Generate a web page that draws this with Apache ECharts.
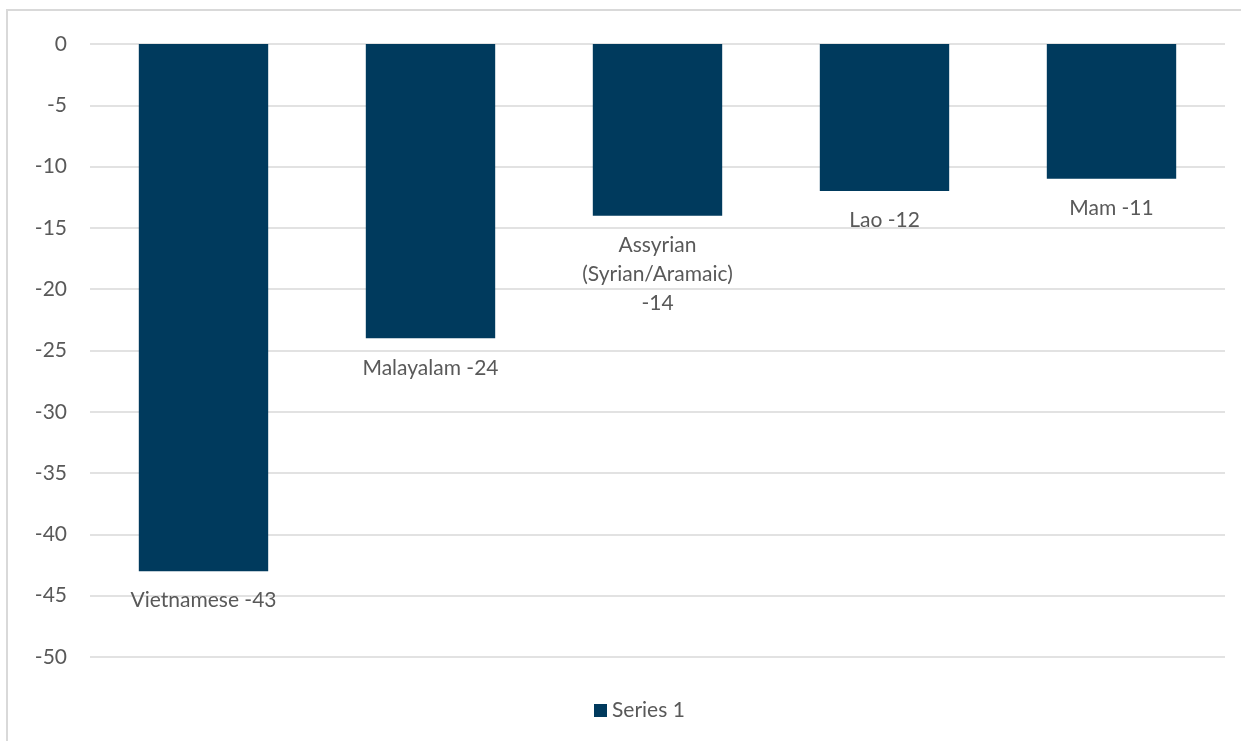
<!DOCTYPE html>
<html>
<head>
<meta charset="utf-8">
<style>
  html, body { margin: 0; padding: 0; background: #ffffff; }
  #chart { width: 1241px; height: 741px; }
</style>
<script src="https://cdn.jsdelivr.net/npm/echarts@6/dist/echarts.min.js"></script>
</head>
<body>
<div id="chart"></div>
<script>
// Languages and change values
const languages = ['Vietnamese', 'Malayalam', 'Assyrian (Syrian/Aramaic)', 'Lao', 'Mam'];
const changes = [-43, -24, -14, -12, -11];
const seriesName = 'Series 1';

const textColor = '#595959';
const barColor = '#003A5D';
const fontFamily = 'Lato, "Open Sans", sans-serif';
const fontSize = 21;

// Long names go on their own lines, value underneath
function labelText(p) {
  if (p.name.length > 15) {
    return p.name.split(' ').join('\n') + '\n' + p.value;
  }
  return p.name + ' ' + p.value;
}

const chart = echarts.init(document.getElementById('chart'), null, { renderer: 'canvas' });

chart.setOption({
  animation: false,
  backgroundColor: '#ffffff',
  graphic: [{
    type: 'rect',
    shape: { x: 7, y: 10, width: 1300, height: 800 },
    style: { fill: 'none', stroke: '#D9D9D9', lineWidth: 2 },
    silent: true
  }],
  grid: { left: 90, right: 16, top: 44, bottom: 84, containLabel: false },
  legend: {
    data: [seriesName],
    left: 589,
    top: 695,
    itemWidth: 13,
    itemHeight: 13,
    itemGap: 6,
    icon: 'rect',
    textStyle: { color: textColor, fontSize: fontSize, fontFamily: fontFamily }
  },
  xAxis: {
    type: 'category',
    data: languages,
    axisLine: { show: false },
    axisTick: { show: false },
    axisLabel: { show: false },
    splitLine: { show: false }
  },
  yAxis: {
    type: 'value',
    min: -50,
    max: 0,
    interval: 5,
    axisLine: { show: false },
    axisTick: { show: false },
    axisLabel: { color: textColor, fontSize: fontSize, fontFamily: fontFamily, margin: 23 },
    splitLine: { lineStyle: { color: '#D9D9D9', width: 1.5 } }
  },
  series: [{
    name: seriesName,
    type: 'bar',
    data: changes,
    barWidth: '57%',
    itemStyle: { color: barColor },
    label: {
      show: true,
      position: 'bottom',
      distance: 15,
      formatter: labelText,
      color: textColor,
      fontSize: fontSize,
      fontFamily: fontFamily,
      lineHeight: 29,
      align: 'center'
    }
  }]
});
</script>
</body>
</html>
